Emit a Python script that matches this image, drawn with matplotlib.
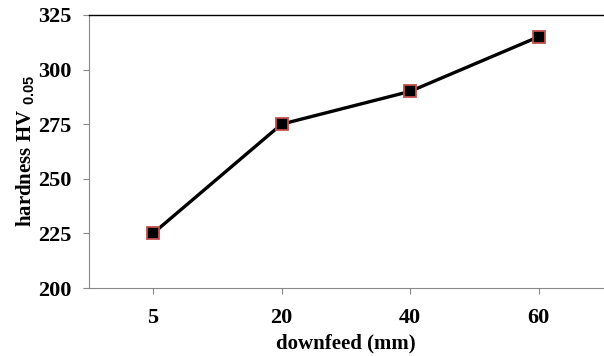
import matplotlib
matplotlib.use('Agg')
import matplotlib.pyplot as plt

plt.rcParams['font.family'] = ['Liberation Serif', 'DejaVu Serif']
plt.rcParams['font.weight'] = 'bold'
plt.rcParams['mathtext.fontset'] = 'custom'
plt.rcParams['mathtext.sf'] = 'Liberation Sans'

# 数据
downfeed = ['5', '20', '40', '60']
hardness = [225, 275, 290, 315]

fig, ax = plt.subplots(figsize=(6.04, 3.56), dpi=100)
plt.subplots_adjust(left=0.147, right=0.998, top=0.958, bottom=0.191)

x = range(len(downfeed))
ax.plot(x, hardness, color='black', linewidth=2.4,
        marker='s', markersize=8, markerfacecolor='black',
        markeredgecolor='#C0504D', markeredgewidth=1.3)

ax.set_xlim(-0.5, len(downfeed) - 0.5)
ax.set_ylim(200, 325)
ax.set_yticks([200, 225, 250, 275, 300, 325])
ax.set_xticks(list(x))
ax.set_xticklabels(downfeed)

ax.tick_params(axis='both', direction='out', length=4.5, width=0.8,
               color='#888888', labelsize=16)
ax.tick_params(axis='x', pad=10)
ax.tick_params(axis='y', pad=8)

for lab in ax.get_xticklabels() + ax.get_yticklabels():
    lab.set_fontweight('bold')

ax.spines['right'].set_visible(False)
ax.spines['left'].set_color('#888888')
ax.spines['bottom'].set_color('#888888')
ax.spines['top'].set_color('black')
ax.spines['top'].set_linewidth(1.0)

ax.set_xlabel('downfeed (mm)', fontsize=15, fontweight='bold', labelpad=4)
ax.set_ylabel(r'hardness HV $_{\mathsf{0.05}}$', fontsize=15,
              fontweight='bold', labelpad=0.5)

plt.savefig('out.png', dpi=100)
